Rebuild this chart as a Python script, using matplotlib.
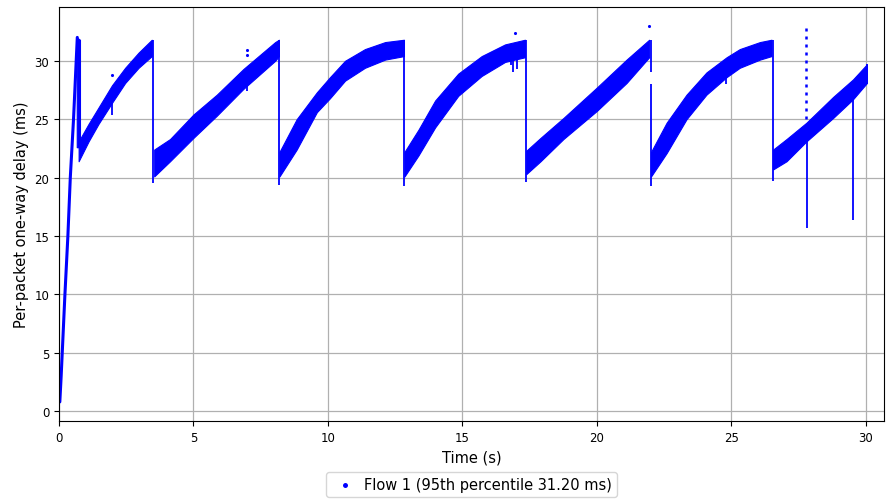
import matplotlib
matplotlib.use("Agg")
from matplotlib import pyplot as plt
import numpy as np

BLUE = "#0000ff"

# ---- start-up ramp (time s, delay ms) ----
ramp_t = [0.03, 0.08, 0.12, 0.22, 0.33, 0.42, 0.54, 0.64, 0.68]
ramp_d = [0.8, 3.0, 5.0, 10.0, 15.0, 20.0, 25.0, 30.0, 32.0]

# ---- sawtooth bands: time, lower and upper edge of the packet cloud ----
c0_t = [0.66, 0.78]
c0_lo = [22.6, 22.6]
c0_hi = [32.0, 31.8]

c1_t = [0.73, 1.10, 1.47, 1.97, 2.46, 2.96, 3.45]
c1_lo = [21.4, 23.1, 24.6, 26.4, 28.1, 29.4, 30.4]
c1_hi = [23.1, 24.6, 26.0, 27.9, 29.4, 30.7, 31.8]

c2_t = [3.54, 4.13, 5.00, 5.87, 6.86, 8.04, 8.18]
c2_lo = [20.1, 21.4, 23.4, 25.3, 27.6, 30.0, 30.4]
c2_hi = [22.4, 23.3, 25.4, 27.1, 29.3, 31.6, 31.8]

c3_t = [8.20, 8.84, 9.59, 10.08, 10.64, 11.38, 12.13, 12.83]
c3_lo = [20.1, 22.4, 25.6, 26.8, 28.3, 29.4, 30.1, 30.4]
c3_hi = [22.2, 25.0, 27.3, 28.6, 30.0, 31.0, 31.6, 31.8]

c4_t = [12.85, 13.37, 13.99, 14.85, 15.72, 16.59, 17.33]
c4_lo = [20.1, 21.9, 24.3, 27.0, 28.7, 29.9, 30.3]
c4_hi = [22.2, 24.1, 26.6, 28.9, 30.4, 31.4, 31.8]

c5_t = [17.38, 17.91, 18.76, 20.00, 21.11, 21.95]
c5_lo = [20.3, 21.4, 23.3, 25.7, 28.1, 30.3]
c5_hi = [22.3, 23.4, 25.1, 27.7, 30.1, 31.8]

c6_t = [22.02, 22.60, 23.34, 24.08, 24.83, 25.32, 26.07, 26.50]
c6_lo = [20.1, 22.1, 25.0, 27.1, 28.6, 29.4, 30.1, 30.4]
c6_hi = [22.2, 24.7, 27.1, 29.0, 30.3, 31.0, 31.6, 31.8]

c7_t = [26.56, 27.06, 27.80, 28.79, 29.53, 30.05]
c7_lo = [20.7, 21.4, 23.1, 25.1, 26.7, 28.1]
c7_hi = [22.4, 23.3, 24.7, 26.9, 28.4, 29.7]

bands = [(c0_t, c0_lo, c0_hi), (c1_t, c1_lo, c1_hi), (c2_t, c2_lo, c2_hi),
         (c3_t, c3_lo, c3_hi), (c4_t, c4_lo, c4_hi), (c5_t, c5_lo, c5_hi),
         (c6_t, c6_lo, c6_hi), (c7_t, c7_lo, c7_hi)]

# ---- vertical runs of packets (queue drains and short spikes) ----
drop_t = [3.51, 8.19, 12.84, 17.37, 22.00, 22.00, 26.55,
          1.97, 6.98, 14.65, 16.80, 16.90, 17.02, 24.80, 27.82, 29.53, 30.05]
drop_lo = [19.5, 19.4, 19.3, 19.6, 29.0, 19.3, 19.7,
           25.4, 27.4, 26.6, 29.6, 29.0, 29.3, 28.0, 15.7, 16.4, 28.0]
drop_hi = [31.8, 31.8, 31.8, 31.8, 31.8, 28.0, 31.8,
           26.4, 27.8, 27.0, 30.4, 30.4, 30.4, 28.6, 23.1, 26.7, 29.7]

# sparse column above the band at ~27.8 s
sparse_t = [27.78]
sparse_lo = [25.0]
sparse_hi = [33.0]

# isolated packets
dot_t = [1.97, 6.98, 6.98, 16.96, 21.93]
dot_d = [28.8, 30.9, 30.5, 32.4, 33.0]

fig = plt.figure(figsize=(8.86, 5.02), dpi=100)
ax = fig.add_axes([0.0666, 0.159, 0.931, 0.825])

ax.plot(ramp_t, ramp_d, color=BLUE, lw=2.2, solid_capstyle="round")
for t, lo, hi in bands:
    ax.fill_between(t, lo, hi, color=BLUE, lw=0.8, edgecolor=BLUE)
ax.vlines(drop_t, drop_lo, drop_hi, color=BLUE, lw=1.3)
ax.vlines(sparse_t, sparse_lo, sparse_hi, color=BLUE, lw=1.8,
          linestyles=(0, (1.2, 2.0)))
ax.scatter(dot_t, dot_d, s=5, color=BLUE, lw=0,
           label="Flow 1 (95th percentile 31.20 ms)")

ax.set_xlim(0, 30.68)
ax.set_ylim(-0.85, 34.6)
ax.set_xticks([0, 5, 10, 15, 20, 25, 30])
ax.set_yticks([0, 5, 10, 15, 20, 25, 30])
ax.tick_params(labelsize=8.5)
ax.grid(True, color="#b0b0b0", lw=0.9)
ax.set_axisbelow(True)
ax.set_xlabel("Time (s)", fontsize=10.5)
ax.set_ylabel("Per-packet one-way delay (ms)", fontsize=10.5)

ax.legend(loc="upper center", bbox_to_anchor=(0.5, -0.105), fontsize=10.5,
          markerscale=1.6, handletextpad=0.3, borderpad=0.35)

fig.savefig("out.png", dpi=100)
